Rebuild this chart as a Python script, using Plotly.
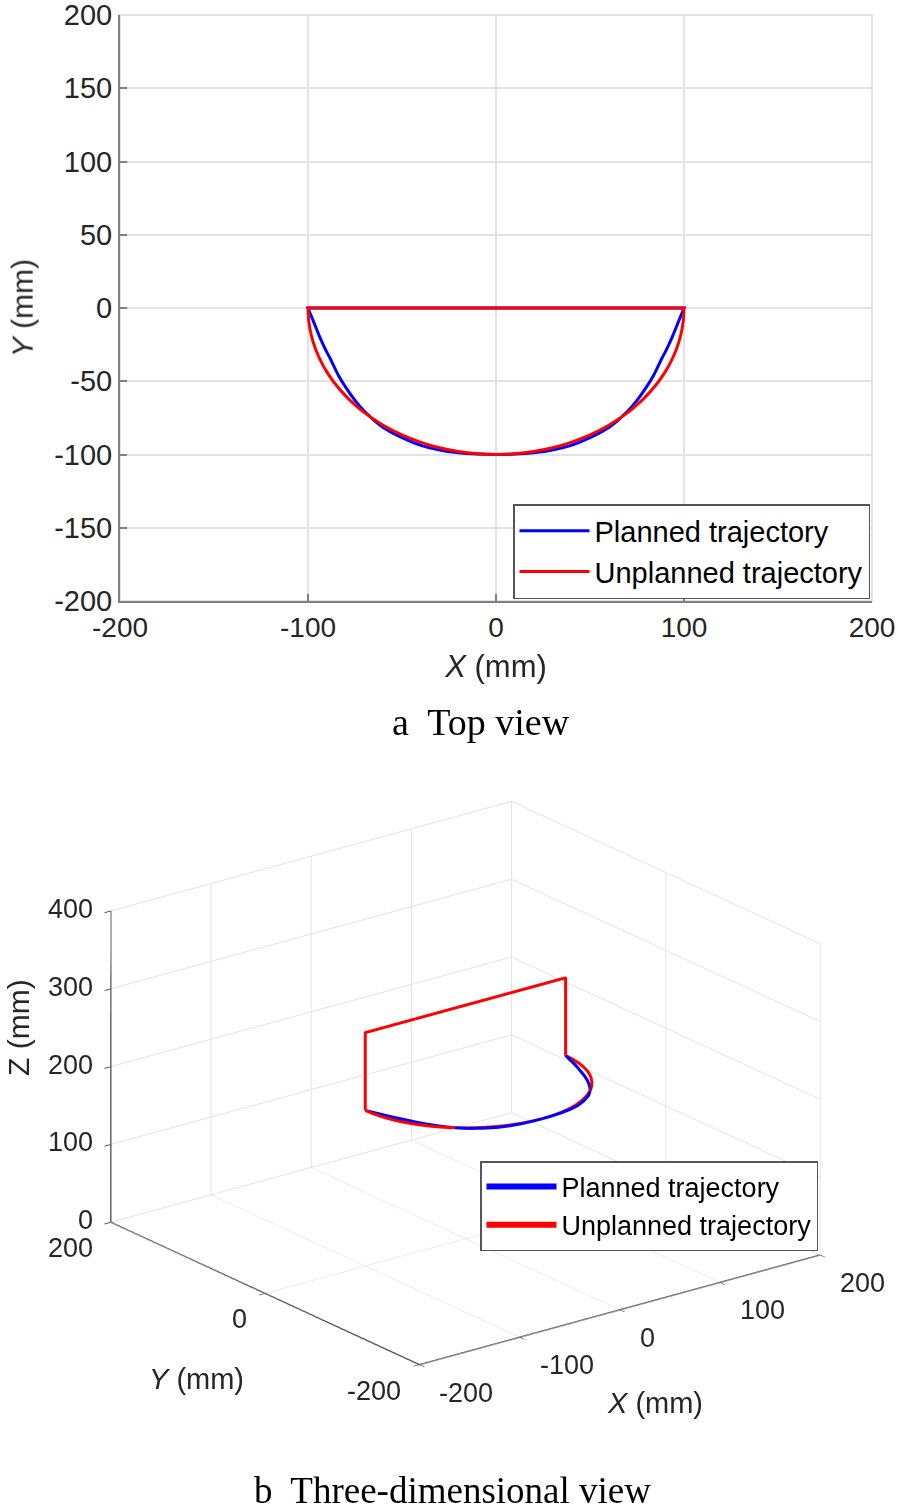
import plotly.graph_objects as go

# planned trajectory (blue) - arc at z=200, then up, across, down
x_plan = [-100, -97, -94, -91, -88, -84, -80, -75, -70, -65, -60, -50, -40, -30, -20, -10, 0,
          10, 20, 30, 40, 50, 60, 65, 70, 75, 80, 84, 88, 91, 94, 97, 100,
          100, -100, -100]
y_plan = [0, -9.5, -19, -27.5, -35, -45.5, -54, -63, -70.5, -76.5, -81.5, -88.5, -93.8, -97, -98.8, -99.7, -100,
          -99.7, -98.8, -97, -93.8, -88.5, -81.5, -76.5, -70.5, -63, -54, -45.5, -35, -27.5, -19, -9.5, 0,
          0, 0, 0]
z_plan = [200] * 33 + [300, 300, 200]

# unplanned trajectory (red) - circular arc
x_unpl = [-100, -99.5, -98, -96, -93, -90, -86, -80, -75, -70, -60, -50, -40, -30, -20, -10, 0,
          10, 20, 30, 40, 50, 60, 70, 75, 80, 86, 90, 93, 96, 98, 99.5, 100,
          100, -100, -100]
y_unpl = [0, -10, -19.9, -28, -36.8, -43.6, -51, -60, -66.1, -71.4, -80, -86.6, -91.7, -95.4, -98, -99.5, -100,
          -99.5, -98, -95.4, -91.7, -86.6, -80, -71.4, -66.1, -60, -51, -43.6, -36.8, -28, -19.9, -10, 0,
          0, 0, 0]
z_unpl = [200] * 33 + [300, 300, 200]

ticks_x = [-200, -100, 0, 100, 200]
ticks_y2d = [-200, -150, -100, -50, 0, 50, 100, 150, 200]
ticks_y3d = [-200, 0, 200]
ticks_z = [0, 100, 200, 300, 400]

FONT = "Liberation Sans"
AXC = "#808080"
GRID = "#e3e3e3"
TXT = "#262626"

W, H = 900, 1508


def px(x):
    return x / W


def py(y):
    return 1 - y / H


def lab(v):
    return [str(t) for t in v]


fig = go.Figure()

# --- a: top view ---
fig.add_trace(go.Scatter(x=x_plan, y=y_plan, mode="lines", name="Planned trajectory",
                         line=dict(color="#0000ff", width=3, shape="spline"), legend="legend"))
fig.add_trace(go.Scatter(x=x_unpl, y=y_unpl, mode="lines", name="Unplanned trajectory",
                         line=dict(color="#ff0000", width=3, shape="spline"), legend="legend"))

# --- b: 3D view ---
fig.add_trace(go.Scatter3d(x=x_plan, y=y_plan, z=z_plan, mode="lines", name="Planned trajectory",
                           line=dict(color="#0000ff", width=6), legend="legend2"))
fig.add_trace(go.Scatter3d(x=x_unpl, y=y_unpl, z=z_unpl, mode="lines", name="Unplanned trajectory",
                           line=dict(color="#ff0000", width=6), legend="legend2"))

ax3 = dict(showbackground=False, gridcolor=GRID, showline=True, linecolor="#555555", linewidth=3,
           ticks="outside", ticklen=8, tickcolor="#555555", tickwidth=2, zeroline=False,
           title=dict(text=""), showticklabels=False, showspikes=False)

# 3D tick labels as scene annotations so they stay horizontal like MATLAB
tk = dict(showarrow=False, font=dict(size=27, color=TXT, family=FONT), yanchor="middle")
scene_ann = []
for v in ticks_z:
    scene_ann.append(dict(tk, x=-200, y=200, z=v, text=str(v), xanchor="right", xshift=-16, yshift=2))
for v in ticks_y3d:
    scene_ann.append(dict(tk, x=-200, y=v, z=0, text=str(v), xanchor="right", xshift=-16, yshift=-26))
for v in ticks_x:
    scene_ann.append(dict(tk, x=v, y=-200, z=0, text=str(v), xanchor="left", xshift=18, yshift=-28))

ann = dict(xref="paper", yref="paper", xanchor="center", yanchor="middle", showarrow=False)

fig.update_layout(
    width=W, height=H,
    margin=dict(l=0, r=0, t=0, b=0),
    paper_bgcolor="white", plot_bgcolor="white",
    font=dict(family=FONT, size=28, color=TXT),
    xaxis=dict(domain=[px(120), px(872)], range=[-200, 200], tickvals=ticks_x, ticktext=lab(ticks_x),
               showgrid=True, gridcolor=GRID, gridwidth=1.5, zeroline=False,
               showline=True, linecolor=AXC, linewidth=2, ticks="inside", ticklen=7,
               tickcolor=AXC, tickwidth=2, tickfont=dict(size=28, color=TXT),
               ticklabeloverflow="allow",
               title=dict(text="<i>X</i> (mm)", standoff=14, font=dict(size=31, color=TXT)),
               automargin=False),
    yaxis=dict(domain=[py(601), py(15)], range=[-200, 200], tickvals=ticks_y2d, ticktext=lab(ticks_y2d),
               showgrid=True, gridcolor=GRID, gridwidth=1.5, zeroline=False,
               showline=True, linecolor=AXC, linewidth=2, ticks="inside", ticklen=7,
               tickcolor=AXC, tickwidth=2, tickfont=dict(size=29, color=TXT),
               ticklabeloverflow="allow",
               title=dict(text="<i>Y</i> (mm)", standoff=12, font=dict(size=30, color=TXT)),
               automargin=False),
    legend=dict(x=px(870), y=py(599), xanchor="right", yanchor="bottom",
                bgcolor="white", bordercolor="#555555", borderwidth=1.5,
                font=dict(size=29, color="black"), itemwidth=70, tracegroupgap=0),
    legend2=dict(x=px(818), y=py(1251), xanchor="right", yanchor="bottom",
                 bgcolor="white", bordercolor="#555555", borderwidth=1.5,
                 font=dict(size=27, color="black"), itemwidth=70, tracegroupgap=0),
    scene=dict(
        domain=dict(x=[px(31), 1.0], y=[py(1383), py(783)]),
        aspectmode="manual", aspectratio=dict(x=1.686, y=1.686, z=1.11),
        camera=dict(eye=dict(x=-1.14, y=-1.48, z=0.71), up=dict(x=0, y=0, z=1),
                    center=dict(x=0, y=0, z=0), projection=dict(type="orthographic")),
        xaxis=dict(ax3, range=[-200, 200], tickvals=ticks_x),
        yaxis=dict(ax3, range=[-200, 200], tickvals=ticks_y3d),
        zaxis=dict(ax3, range=[0, 400], tickvals=ticks_z),
        annotations=scene_ann,
    ),
    shapes=[dict(type="rect", xref="x domain", yref="y domain", x0=0, x1=1, y0=0, y1=1,
                 line=dict(color=GRID, width=2), layer="below")],
    annotations=[
        dict(ann, text="a  Top view", x=px(481), y=py(722),
             font=dict(family="Liberation Serif", size=38, color="black")),
        dict(ann, text="b  Three-dimensional view", x=px(453), y=py(1490),
             font=dict(family="Liberation Serif", size=37, color="black")),
        dict(ann, text="Z (mm)", x=px(18), y=py(1028), textangle=-90,
             font=dict(size=30, color=TXT)),
        dict(ann, text="<i>Y</i> (mm)", x=px(196), y=py(1379),
             font=dict(size=29, color=TXT)),
        dict(ann, text="<i>X</i> (mm)", x=px(655), y=py(1403),
             font=dict(size=29, color=TXT)),
    ],
)

# drop the default 8px body margin so the figure sits at the page origin
fig.write_html("out.html", config={"displayModeBar": False},
               post_script="document.body.style.margin='0';")
